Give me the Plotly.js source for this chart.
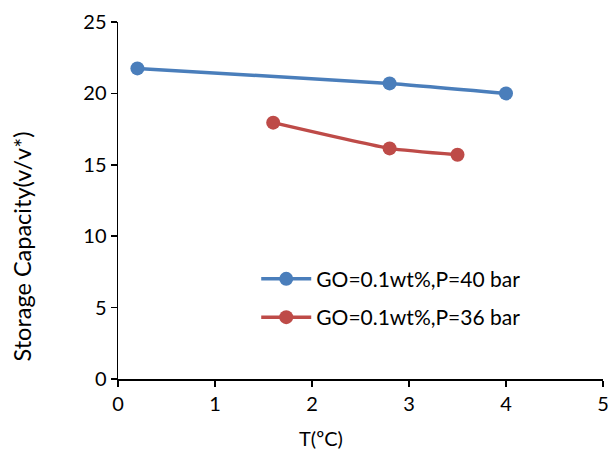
<!DOCTYPE html>
<html>
<head>
<meta charset="utf-8">
<script src="https://cdn.plot.ly/plotly-3.0.1.min.js"></script>
<style>html,body{margin:0;padding:0;background:#fff;}#chart{width:609px;height:453px;}</style>
</head>
<body>
<div id="chart"></div>
<script>
// Temperature (°C) and storage capacity (v/v*) for two pressures
const tempP40 = [0.2, 2.8, 4.0];
const capP40 = [21.75, 20.7, 20.0];
const tempP36 = [1.6, 2.8, 3.5];
const capP36 = [17.95, 16.15, 15.7];
const nameP40 = 'GO=0.1wt%,P=40 bar';
const nameP36 = 'GO=0.1wt%,P=36 bar';
const xTicks = [0, 1, 2, 3, 4, 5];
const yTicks = [0, 5, 10, 15, 20, 25];
const xTitle = 'T(ºC)';
const yTitle = 'Storage Capacity(v/v*)';

const font = 'Lato, "Open Sans", sans-serif';

const traces = [
  {x: tempP40, y: capP40, name: nameP40, legendgroup: 'p40', mode: 'lines+markers', type: 'scatter',
   line: {color: '#4A7EBB', width: 3.5, shape: 'spline', smoothing: 0.5},
   marker: {color: '#4A7EBB', size: 14}},
  {x: tempP36, y: capP36, name: nameP36, legendgroup: 'p36', mode: 'lines+markers', type: 'scatter',
   line: {color: '#BE4B48', width: 3.5, shape: 'spline', smoothing: 0.5},
   marker: {color: '#BE4B48', size: 14}}
];

const layout = {
  width: 609, height: 453,
  margin: {l: 118, r: 6, t: 22, b: 74},
  paper_bgcolor: '#fff', plot_bgcolor: '#fff',
  font: {family: font, size: 20, color: '#000'},
  showlegend: true,
  legend: {x: 0.285, y: 0.337, xanchor: 'left', yanchor: 'top',
           traceorder: 'grouped', tracegroupgap: 8,
           bgcolor: 'rgba(0,0,0,0)', font: {size: 21, color: '#000'},
           itemwidth: 50},
  xaxis: {range: [0, 5], tickvals: xTicks, showgrid: false, zeroline: false,
          showline: true, linecolor: '#000', linewidth: 1.5,
          ticks: 'outside', ticklen: 6, tickwidth: 1.5, tickcolor: '#000',
          tickfont: {size: 20}},
  yaxis: {range: [0, 25], tickvals: yTicks, showgrid: false, zeroline: false,
          showline: true, linecolor: '#000', linewidth: 1.5,
          ticks: 'outside', ticklen: 6, tickwidth: 1.5, tickcolor: '#000',
          tickfont: {size: 20}},
  annotations: [
    {text: xTitle, xref: 'paper', yref: 'paper', x: 0.419, y: -0.165,
     xanchor: 'center', yanchor: 'middle', showarrow: false, font: {size: 20}},
    {text: yTitle, xref: 'paper', yref: 'paper', x: -0.198, y: 0.371,
     xanchor: 'center', yanchor: 'middle', textangle: -90, showarrow: false, font: {size: 23.5}}
  ]
};

Plotly.newPlot('chart', traces, layout, {displayModeBar: false, staticPlot: true});
</script>
</body>
</html>
